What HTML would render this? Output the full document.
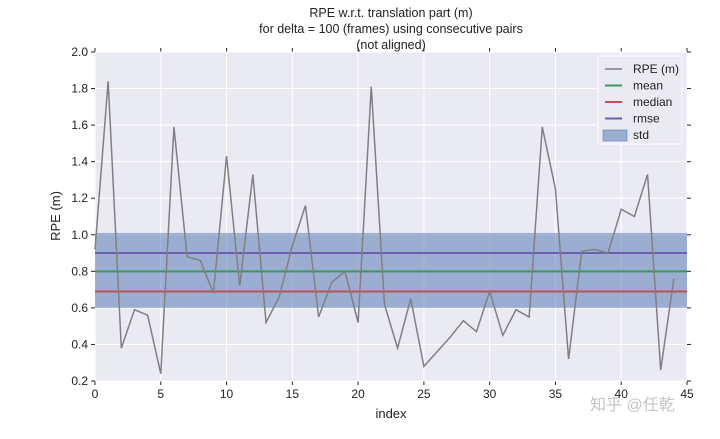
<!DOCTYPE html>
<html><head><meta charset="utf-8"><style>
body{margin:0;background:#fff;width:720px;height:434px;overflow:hidden}
text{font-family:"Liberation Sans","DejaVu Sans",sans-serif;fill:#222}
</style></head><body>
<svg id="chart" width="720" height="434" xmlns="http://www.w3.org/2000/svg"></svg>
<script>
const indices=[...Array(45).keys()];
const rpeValues=[0.92,1.84,0.38,0.59,0.56,0.24,1.59,0.88,0.86,0.68,1.43,0.72,1.33,0.52,0.66,0.94,1.16,0.55,0.74,0.80,0.52,1.81,0.62,0.38,0.65,0.28,0.36,0.44,0.53,0.47,0.69,0.45,0.59,0.55,1.59,1.25,0.32,0.91,0.92,0.90,1.14,1.10,1.33,0.26,0.76];
const meanValue=0.80, medianValue=0.69, rmseValue=0.90, stdLow=0.60, stdHigh=1.01;
const xTicks=[0,5,10,15,20,25,30,35,40,45];
const yTicks=[0.2,0.4,0.6,0.8,1.0,1.2,1.4,1.6,1.8,2.0];
const L=95,R=687,T=52,B=381;
const xs=v=>L+(v-0)/45*(R-L);
const ys=v=>B-(v-0.2)/1.8*(B-T);
const svg=document.getElementById('chart');
const NS='http://www.w3.org/2000/svg';
function mk(tag,attrs,parent){const e=document.createElementNS(NS,tag);for(const k in attrs)e.setAttribute(k,attrs[k]);(parent||svg).appendChild(e);return e;}
let e;
e=mk('rect',{x:L,y:T,width:R-L,height:B-T,fill:'#eaeaf2'});


xTicks.forEach(t=>{
 e=mk('line',{x1:xs(t),x2:xs(t),y1:T,y2:B,stroke:'#fff','stroke-width':1});
 
 
 mk('line',{x1:xs(t),x2:xs(t),y1:B,y2:B+4,stroke:'#222'});
 mk('line',{x1:xs(t),x2:xs(t),y1:T,y2:T-4,stroke:'#222'});
 e=mk('text',{x:xs(t),y:B+17,'text-anchor':'middle','font-size':12});
 e.textContent=t;
 
 
});
yTicks.forEach(t=>{
 e=mk('line',{x1:L,x2:R,y1:ys(t),y2:ys(t),stroke:'#fff','stroke-width':1});
 
 
 mk('line',{x1:L-4,x2:L,y1:ys(t),y2:ys(t),stroke:'#222'});
 mk('line',{x1:R,x2:R+4,y1:ys(t),y2:ys(t),stroke:'#222'});
 e=mk('text',{x:L-7,y:ys(t)+4,'text-anchor':'end','font-size':12});
 e.textContent=t.toFixed(1);
 
 
});
e=mk('rect',{x:L,y:ys(stdHigh),width:R-L,height:ys(stdLow)-ys(stdHigh),fill:'#4c72b0','fill-opacity':0.5});


[[rmseValue,'#6d5fb0','rmse-line'],[meanValue,'#3a9a5a','mean-line'],[medianValue,'#c44e52','median-line']].forEach(([v,c,n])=>{
 e=mk('line',{x1:L,x2:R,y1:ys(v),y2:ys(v),stroke:c,'stroke-width':2});
 
 
});
e=mk('polyline',{points:rpeValues.map((v,i)=>xs(indices[i])+','+ys(v)).join(' '),fill:'none',stroke:'#808080','stroke-width':1.5});


// legend
const lg=mk('g',{});


mk('rect',{x:598,y:56,width:84,height:88,fill:'#eaeaf2',stroke:'#fff','stroke-width':1},lg);
const items=[['RPE (m)','#808080'],['mean','#3a9a5a'],['median','#c44e52'],['rmse','#6d5fb0'],['std','#4c72b0']];
items.forEach(([lab,c],i)=>{
 const y=69+i*16.5;
 if(lab==='std'){mk('rect',{x:603,y:y-5,width:24,height:11,fill:'#4c72b0','fill-opacity':0.5,stroke:'#4c72b0','stroke-opacity':0.5},lg);}
 else mk('line',{x1:605,x2:622,y1:y,y2:y,stroke:c,'stroke-width':lab==='RPE (m)'?1.5:2},lg);
 e=mk('text',{x:633,y:y+4,'font-size':12},lg);
 e.textContent=lab;
 
 
});
// frame ticks top/right small
[['RPE w.r.t. translation part (m)',17],['for delta = 100 (frames) using consecutive pairs',33],['(not aligned)',49]].forEach(([t,y])=>{
 e=mk('text',{x:391,y:y,'text-anchor':'middle','font-size':12.5});
 e.textContent=t;
 
 
});
e=mk('text',{x:391,y:418,'text-anchor':'middle','font-size':13});
e.textContent='index';


e=mk('text',{x:60,y:216,'text-anchor':'middle','font-size':13,transform:'rotate(-90 60 216)'});
e.textContent='RPE (m)';


e=mk('text',{x:590,y:410,'font-size':16,'fill-opacity':0.35});
e.setAttribute('style','font-family:"Liberation Sans","Noto Sans CJK SC",sans-serif;fill:#555');
e.textContent='知乎 @任乾';


</script>
</body></html>
